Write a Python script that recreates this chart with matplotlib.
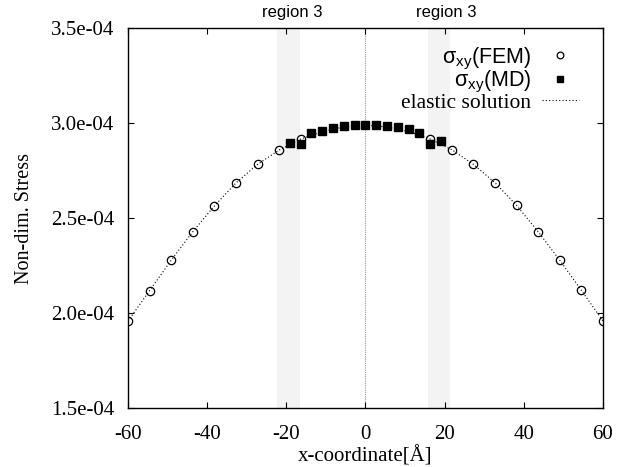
import matplotlib
matplotlib.use("Agg")
import matplotlib.pyplot as plt
from matplotlib.ticker import FormatStrFormatter

plt.rcParams["font.family"] = ["Liberation Serif", "DejaVu Serif"]
plt.rcParams["mathtext.fontset"] = "custom"
plt.rcParams["mathtext.rm"] = "Liberation Sans"
plt.rcParams["mathtext.it"] = "Liberation Sans"
plt.rcParams["axes.unicode_minus"] = False

# FEM-Werte (Kreise)
x_fem = [-60, -54.55, -49.09, -43.64, -38.18, -32.73, -27.27, -21.82, -16.36,
         16.36, 21.82, 27.27, 32.73, 38.18, 43.64, 49.09, 54.55, 60]
y_fem = [1.959e-4, 2.119e-4, 2.279e-4, 2.429e-4, 2.565e-4, 2.686e-4, 2.784e-4, 2.859e-4, 2.917e-4,
         2.917e-4, 2.861e-4, 2.784e-4, 2.687e-4, 2.568e-4, 2.429e-4, 2.279e-4, 2.121e-4, 1.959e-4]

# MD-Werte (Quadrate)
x_md = [-19.09, -16.36, -13.64, -10.91, -8.18, -5.45, -2.73, 0,
        2.73, 5.45, 8.18, 10.91, 13.64, 16.36, 19.09]
y_md = [2.898e-4, 2.889e-4, 2.949e-4, 2.961e-4, 2.974e-4, 2.984e-4, 2.989e-4, 2.989e-4,
        2.989e-4, 2.984e-4, 2.979e-4, 2.968e-4, 2.947e-4, 2.891e-4, 2.905e-4]

# elastische Loesung (gepunktete Linie)
x_el = [-60, -54.55, -49.09, -43.64, -38.18, -32.73, -27.27, -21.82, -16.36, -10.91, -5.45, 0,
        5.45, 10.91, 16.36, 21.82, 27.27, 32.73, 38.18, 43.64, 49.09, 54.55, 60]
y_el = [1.959e-4, 2.119e-4, 2.279e-4, 2.429e-4, 2.565e-4, 2.686e-4, 2.784e-4, 2.859e-4, 2.917e-4,
        2.956e-4, 2.981e-4, 2.990e-4, 2.981e-4, 2.956e-4,
        2.917e-4, 2.861e-4, 2.784e-4, 2.687e-4, 2.568e-4, 2.429e-4, 2.279e-4, 2.121e-4, 1.959e-4]

# Bereiche "region 3"
regions = [(-22.3, -16.6), (15.7, 21.3)]
region_label_x = [-18.5, 20.5]

fig = plt.figure(figsize=(6.38, 4.67), dpi=100)
ax = fig.add_axes([0.2006, 0.1257, 0.7445, 0.8137])

for (a, b) in regions:
    ax.axvspan(a, b, color="#f3f3f3", lw=0, zorder=0)
for xl in region_label_x:
    ax.annotate("region 3", xy=(xl, 1.0), xycoords=("data", "axes fraction"),
                xytext=(0, 8), textcoords="offset points", ha="center", va="baseline",
                fontsize=12, family="Liberation Sans")

ax.axvline(0, color="#999999", lw=0.8, ls=(0, (1, 1)), zorder=1)

ax.plot(x_fem, y_fem, "o", ms=6, mfc="none", mec="black", mew=0.9, ls="none",
        label=r"σ$_{\rm xy}$(FEM)", zorder=3)
ax.plot(x_md, y_md, "s", ms=5.5, color="black", ls="none",
        label=r"σ$_{\rm xy}$(MD)", zorder=3)
ax.plot(x_el, y_el, color="black", lw=0.8, ls=(0, (1, 2)),
        label="elastic solution", zorder=4)

ax.set_xlim(-60, 60)
ax.set_ylim(1.5e-4, 3.5e-4)
ax.set_xticks([-60, -40, -20, 0, 20, 40, 60])
ax.set_yticks([1.5e-4, 2.0e-4, 2.5e-4, 3.0e-4, 3.5e-4])
ax.yaxis.set_major_formatter(FormatStrFormatter("%.1e"))
ax.tick_params(direction="in", length=4, width=0.8, top=True, right=True,
               labelsize=15)
ax.tick_params(axis="x", pad=12)
ax.tick_params(axis="y", pad=10)
for s in ax.spines.values():
    s.set_linewidth(1.0)

ax.set_xlabel("x-coordinate[Å]", fontsize=15, labelpad=1.5)
ax.set_ylabel("Non-dim. Stress", fontsize=14.5, labelpad=12)

leg = ax.legend(loc="upper right", bbox_to_anchor=(0.985, 1.0), frameon=False,
                markerfirst=False, fontsize=15.5,
                handlelength=1.7, handletextpad=0.5, labelspacing=-0.12,
                borderaxespad=0.4, markerscale=0.8)
texts = leg.get_texts()
texts[0].set_family("Liberation Sans")
texts[1].set_family("Liberation Sans")
# Legende rechtsbuendig wie bei gnuplot
try:
    for col in leg._legend_handle_box.get_children():
        col.align = "right"
except Exception:
    pass

fig.savefig("out.png", dpi=100)
